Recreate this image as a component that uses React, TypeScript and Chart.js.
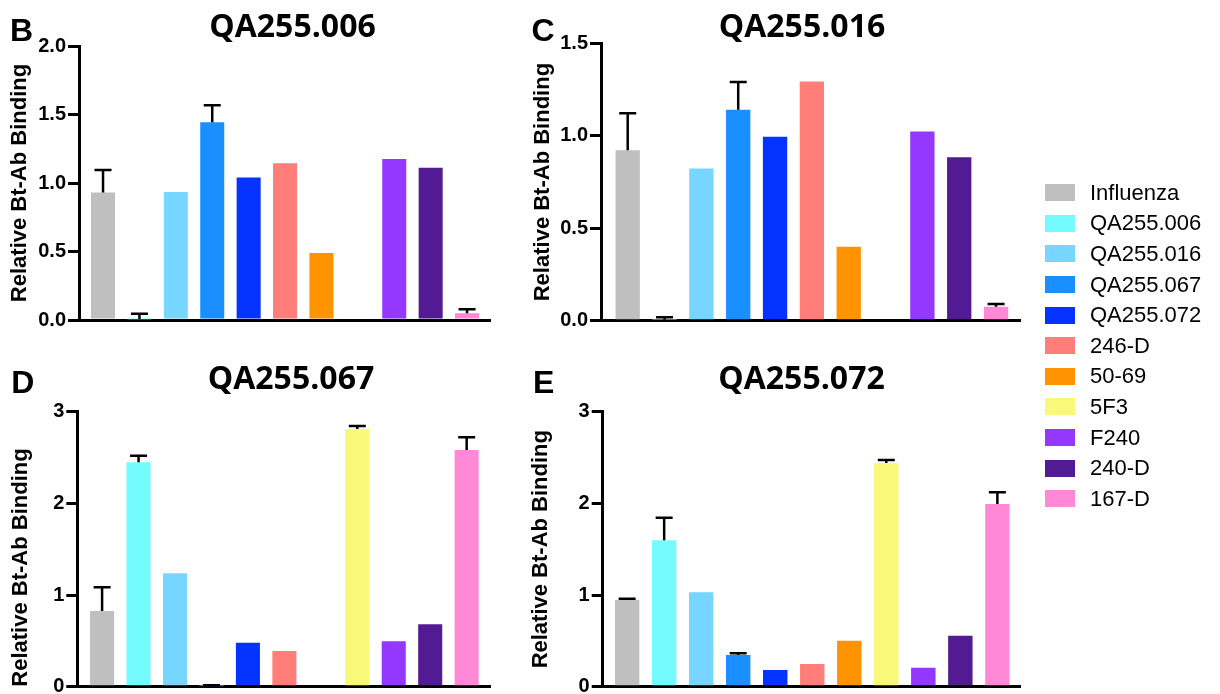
import React, { useEffect, useRef } from "react";
import { Chart, registerables } from "chart.js";

Chart.register(...registerables);

// ---------- data ----------
const antibodies = [
  "Influenza",
  "QA255.006",
  "QA255.016",
  "QA255.067",
  "QA255.072",
  "246-D",
  "50-69",
  "5F3",
  "F240",
  "240-D",
  "167-D",
];

const barColors = [
  "#BFBFBF",
  "#74FBFD",
  "#76D6FF",
  "#1A8FFF",
  "#0433FF",
  "#FF7E79",
  "#FF9300",
  "#FAF878",
  "#9437FF",
  "#531B93",
  "#FF89D7",
];

// Panel B: QA255.006
const binding006 = [0.93, 0.005, 0.935, 1.443, 1.04, 1.144, 0.489, null, 1.175, 1.112, 0.05];
const error006 = [0.165, 0.04, 0, 0.124, 0, 0, 0, 0, 0, 0, 0.028];

// Panel C: QA255.016
const binding016 = [0.923, 0.005, 0.824, 1.141, 0.995, 1.295, 0.4, null, 1.024, 0.885, 0.076];
const error016 = [0.199, 0.013, 0, 0.151, 0, 0, 0, 0, 0, 0, 0.015];

// Panel D: QA255.067
const binding067 = [0.826, 2.448, 1.237, 0.005, 0.48, 0.39, null, 2.81, 0.495, 0.68, 2.582];
const error067 = [0.258, 0.072, 0, 0.01, 0, 0, 0, 0.035, 0, 0, 0.138];

// Panel E: QA255.072
const binding072 = [0.946, 1.597, 1.03, 0.346, 0.182, 0.248, 0.502, 2.44, 0.207, 0.556, 1.993];
const error072 = [0.014, 0.247, 0, 0.018, 0, 0, 0, 0.033, 0, 0, 0.127];

const tickValuesB = [0, 0.5, 1.0, 1.5, 2.0];
const tickLabelsB = ["0.0", "0.5", "1.0", "1.5", "2.0"];
const tickValuesC = [0, 0.5, 1.0, 1.5];
const tickLabelsC = ["0.0", "0.5", "1.0", "1.5"];
const tickValuesDE = [0, 1, 2, 3];
const tickLabelsDE = ["0", "1", "2", "3"];

const yAxisTitle = "Relative Bt-Ab Binding";

// ---------- plugins ----------
const errorBarPlugin = {
  id: "errorBars",
  afterDatasetsDraw(chart: any, _args: any, opts: any) {
    const errs: number[] = opts.errors || [];
    const meta = chart.getDatasetMeta(0);
    const data = chart.data.datasets[0].data as any[];
    const xs = chart.scales.x;
    const ys = chart.scales.y;
    const ctx = chart.ctx;
    ctx.save();
    ctx.strokeStyle = "#000";
    ctx.lineWidth = 2.5;
    meta.data.forEach((_el: any, i: number) => {
      const e = errs[i];
      const v = data[i] && data[i].y;
      if (!e || v == null) return;
      const x = xs.getPixelForValue(data[i].x);
      const yb = ys.getPixelForValue(v);
      const yt = ys.getPixelForValue(v + e);
      ctx.beginPath();
      ctx.moveTo(x, yb);
      ctx.lineTo(x, yt);
      ctx.moveTo(x - 8.5, yt);
      ctx.lineTo(x + 8.5, yt);
      ctx.stroke();
    });
    ctx.restore();
  },
};

const panelLetterPlugin = {
  id: "panelLetter",
  afterDraw(chart: any, _args: any, opts: any) {
    if (!opts || !opts.text) return;
    const ctx = chart.ctx;
    ctx.save();
    ctx.font = 'bold 32px "Liberation Sans", Arial, sans-serif';
    ctx.fillStyle = "#000";
    ctx.textAlign = "left";
    ctx.textBaseline = "alphabetic";
    ctx.fillText(opts.text, opts.x, opts.y);
    ctx.restore();
  },
};

// ---------- panel layout ----------
type PanelCfg = {
  letter: string;
  title: string;
  values: (number | null)[];
  errors: number[];
  tickValues: number[];
  tickLabels: string[];
  L: number;
  T: number;
  W: number;
  H: number;
  chartLeft: number;
  chartRight: number;
  chartBottom: number;
  titlePadTop: number;
  titlePadBottom: number;
  yTitlePad: number;
  yTitleAlign: "center" | "start" | "end";
  xMin: number;
  xMax: number;
  letterX: number;
  letterY: number;
};

const panels: PanelCfg[] = [
  {
    letter: "B", title: "QA255.006", values: binding006, errors: error006,
    tickValues: tickValuesB, tickLabels: tickLabelsB,
    L: 0, T: 0, W: 585, H: 340, chartLeft: 79, chartRight: 490, chartBottom: 320,
    titlePadTop: 12, titlePadBottom: 2, yTitlePad: 6.6, yTitleAlign: "center",
    xMin: -0.66, xMax: 10.63, letterX: 10, letterY: 40.7,
  },
  {
    letter: "C", title: "QA255.016", values: binding016, errors: error016,
    tickValues: tickValuesC, tickLabels: tickLabelsC,
    L: 520, T: 0, W: 564, H: 340, chartLeft: 601, chartRight: 1020, chartBottom: 320.7,
    titlePadTop: 11.5, titlePadBottom: 0, yTitlePad: 9.6, yTitleAlign: "center",
    xMin: -0.725, xMax: 10.65, letterX: 11.5, letterY: 40.7,
  },
  {
    letter: "D", title: "QA255.067", values: binding067, errors: error067,
    tickValues: tickValuesDE, tickLabels: tickLabelsDE,
    L: 0, T: 340, W: 582, H: 370, chartLeft: 77.3, chartRight: 490, chartBottom: 686.7,
    titlePadTop: 24, titlePadBottom: 15.7, yTitlePad: 7.9, yTitleAlign: "start",
    xMin: -0.68, xMax: 10.64, letterX: 11.3, letterY: 53.3,
  },
  {
    letter: "E", title: "QA255.072", values: binding072, errors: error072,
    tickValues: tickValuesDE, tickLabels: tickLabelsDE,
    L: 520, T: 340, W: 563, H: 370, chartLeft: 602.7, chartRight: 1020.7, chartBottom: 686.7,
    titlePadTop: 23.5, titlePadBottom: 16.2, yTitlePad: 7.9, yTitleAlign: "center",
    xMin: -0.66, xMax: 10.63, letterX: 13, letterY: 53.3,
  },
];

function Panel({ cfg }: { cfg: PanelCfg }) {
  const ref = useRef<HTMLCanvasElement>(null);
  useEffect(() => {
    if (!ref.current) return;
    const yWidth = cfg.chartLeft - cfg.L;
    const rightWidth = cfg.W - (cfg.chartRight - cfg.L);
    const padBottom = cfg.H - (cfg.chartBottom - cfg.T);
    const yMax = cfg.tickValues[cfg.tickValues.length - 1];
    const chart = new Chart(ref.current, {
      type: "bar",
      data: {
        labels: antibodies,
        datasets: [
          {
            label: cfg.title,
            data: cfg.values.map((v, i) => ({ x: i, y: v })) as any,
            backgroundColor: barColors,
            borderWidth: 0,
            barPercentage: 0.66,
            categoryPercentage: 1,
          },
        ],
      },
      options: {
        animation: false,
        responsive: false,
        layout: { padding: { left: 0, right: 0, top: 0, bottom: padBottom } },
        plugins: {
          legend: { display: false },
          tooltip: { enabled: false },
          title: {
            display: true,
            text: cfg.title,
            color: "#000",
            font: { family: "'Open Sans', sans-serif", weight: "bold", size: 32, lineHeight: 1 },
            padding: { top: cfg.titlePadTop, bottom: cfg.titlePadBottom },
          },
          errorBars: { errors: cfg.errors },
          panelLetter: { text: cfg.letter, x: cfg.letterX, y: cfg.letterY },
        } as any,
        scales: {
          x: {
            type: "linear",
            min: cfg.xMin,
            max: cfg.xMax,
            offset: false,
            ticks: { display: false },
            grid: { display: false },
            border: { display: true, color: "#000", width: 3 },
            afterFit: (s: any) => {
              s.height = 0;
            },
          },
          y: {
            type: "linear",
            position: "left",
            min: 0,
            max: yMax,
            afterBuildTicks: (s: any) => {
              s.ticks = cfg.tickValues.map((v) => ({ value: v }));
            },
            ticks: {
              color: "#000",
              padding: 2,
              font: { family: "'Liberation Sans', Arial, sans-serif", weight: "bold", size: 20 },
              callback: (_v: any, idx: number) => cfg.tickLabels[idx],
            },
            grid: {
              display: true,
              drawOnChartArea: false,
              drawTicks: true,
              tickLength: 11,
              lineWidth: 3,
              color: "#000",
            },
            border: { display: true, color: "#000", width: 3 },
            title: {
              display: true,
              text: yAxisTitle,
              color: "#000",
              align: cfg.yTitleAlign,
              font: { family: "'Liberation Sans', Arial, sans-serif", weight: "bold", size: 22, lineHeight: 1.2 },
              padding: { top: cfg.yTitlePad, bottom: 0 },
            },
            afterFit: (s: any) => {
              s.width = yWidth;
            },
          },
          yR: {
            type: "linear",
            position: "right",
            display: true,
            ticks: { display: false },
            grid: { display: false },
            border: { display: false },
            afterFit: (s: any) => {
              s.width = rightWidth;
            },
          },
        } as any,
      },
      plugins: [errorBarPlugin as any, panelLetterPlugin as any],
    });
    return () => chart.destroy();
  }, [cfg]);
  return (
    <canvas
      ref={ref}
      width={cfg.W}
      height={cfg.H}
      style={{ position: "absolute", left: cfg.L, top: cfg.T, width: cfg.W, height: cfg.H }}
    />
  );
}

function Legend() {
  return (
    <>
      {antibodies.map((name, i) => (
        <div
          key={name}
          style={{
            position: "absolute",
            left: 1045,
            top: 192.7 - 12 + i * 30.6,
            height: 24,
            display: "flex",
            alignItems: "center",
            whiteSpace: "nowrap",
          }}
        >
          <div style={{ width: 30, height: 17, background: barColors[i], marginRight: 15 }} />
          <span
            style={{
              fontFamily: "'Liberation Sans', Arial, sans-serif",
              fontSize: 22,
              lineHeight: "24px",
              color: "#000",
            }}
          >
            {name}
          </span>
        </div>
      ))}
    </>
  );
}

export default function App() {
  return (
    <div
      style={{
        position: "absolute",
        left: 0,
        top: 0,
        width: 1220,
        height: 694,
        overflow: "hidden",
        background: "#fff",
      }}
    >
      {panels.map((p) => (
        <Panel key={p.letter} cfg={p} />
      ))}
      <Legend />
    </div>
  );
}
